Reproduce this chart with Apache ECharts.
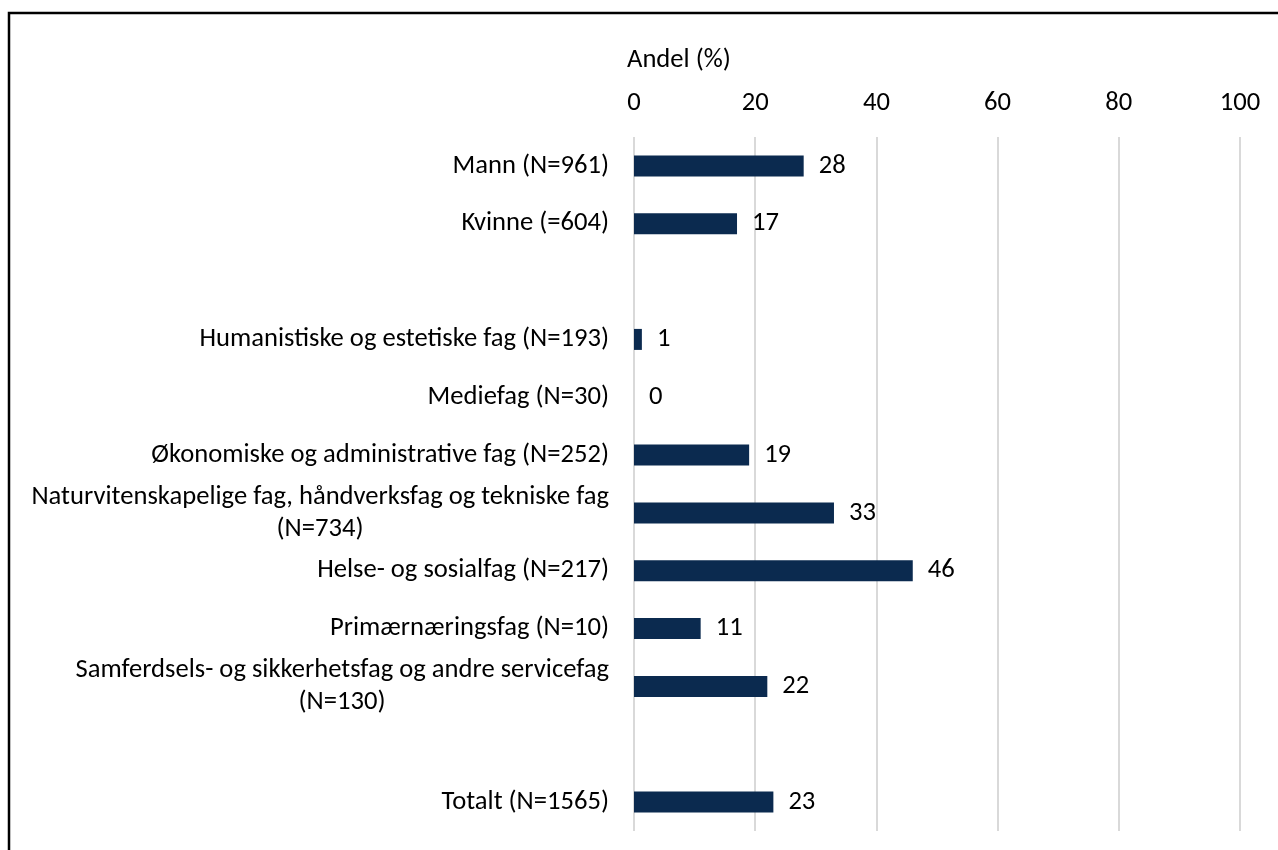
<!DOCTYPE html>
<html>
<head>
<meta charset="utf-8">
<script src="https://cdn.jsdelivr.net/npm/echarts@6/dist/echarts.min.js"></script>
<style>
html,body{margin:0;padding:0;background:#fff;}
#chart{width:1278px;height:850px;}
</style>
</head>
<body>
<div id="chart"></div>
<script>
const categories = [
  "Mann (N=961)",
  "Kvinne (=604)",
  " ",
  "Humanistiske og estetiske fag (N=193)",
  "Mediefag (N=30)",
  "Økonomiske og administrative fag (N=252)",
  "Naturvitenskapelige fag, håndverksfag og tekniske fag\n(N=734)",
  "Helse- og sosialfag (N=217)",
  "Primærnæringsfag (N=10)",
  "Samferdsels- og sikkerhetsfag og andre servicefag\n(N=130)",
  "  ",
  "Totalt (N=1565)"
];
const values = [28, 17, null, 1.3, 0, 19, 33, 46, 11, 22, null, 23];
const xTicks = [0, 20, 40, 60, 80, 100];
const axisTitle = "Andel (%)";

const FONT = "Carlito, Lato, 'Liberation Sans', sans-serif";
const FS = 26.6;
const LH = 32;

const ctx = document.createElement('canvas').getContext('2d');
ctx.font = FS + 'px ' + FONT;
const rich = { a: { fontSize: FS, fontFamily: FONT, color: '#000', lineHeight: LH } };
categories.forEach((c, i) => {
  if (c.indexOf('\n') >= 0) {
    const first = c.split('\n')[0];
    rich['w' + i] = { fontSize: FS, fontFamily: FONT, color: '#000', lineHeight: LH,
      width: Math.ceil(ctx.measureText(first).width), align: 'center' };
  }
});

const chart = echarts.init(document.getElementById('chart'));
chart.setOption({
  animation: false,
  backgroundColor: '#fff',
  textStyle: { fontFamily: FONT },
  title: {
    text: axisTitle, left: 622, top: 42,
    textStyle: { fontSize: FS, fontWeight: 'normal', color: '#000', fontFamily: FONT }
  },
  grid: { left: 634, right: 38, top: 137, bottom: 19, containLabel: false },
  xAxis: {
    type: 'value', position: 'top', min: xTicks[0], max: xTicks[xTicks.length - 1], interval: 20,
    axisLine: { show: false }, axisTick: { show: false },
    axisLabel: { fontSize: FS, color: '#000', margin: 20, fontFamily: FONT },
    splitLine: { show: true, lineStyle: { color: '#d9d9d9', width: 2 } }
  },
  yAxis: {
    type: 'category', inverse: true, data: categories,
    axisLine: { show: false }, axisTick: { show: false },
    axisLabel: {
      margin: 25, color: '#000', fontSize: FS, fontFamily: FONT, lineHeight: LH, rich: rich,
      formatter: function (v, i) {
        if (v.indexOf('\n') >= 0) {
          const p = v.split('\n');
          return '{a|' + p[0] + '}\n{w' + i + '|' + p[1] + '}';
        }
        return '{a|' + v + '}';
      }
    }
  },
  series: [{
    type: 'bar', data: values, barWidth: 21,
    itemStyle: { color: '#0b2a4f' },
    label: {
      show: true, position: 'right', distance: 15, color: '#000', fontSize: FS, fontFamily: FONT,
      formatter: function (p) { return p.value == null ? '' : String(Math.round(p.value)); }
    }
  }],
  graphic: [{
    type: 'polyline', silent: true,
    shape: { points: [[9, 860], [9, 13], [1290, 13]] },
    style: { stroke: '#000', lineWidth: 2.5, fill: null }
  }]
});
</script>
</body>
</html>
